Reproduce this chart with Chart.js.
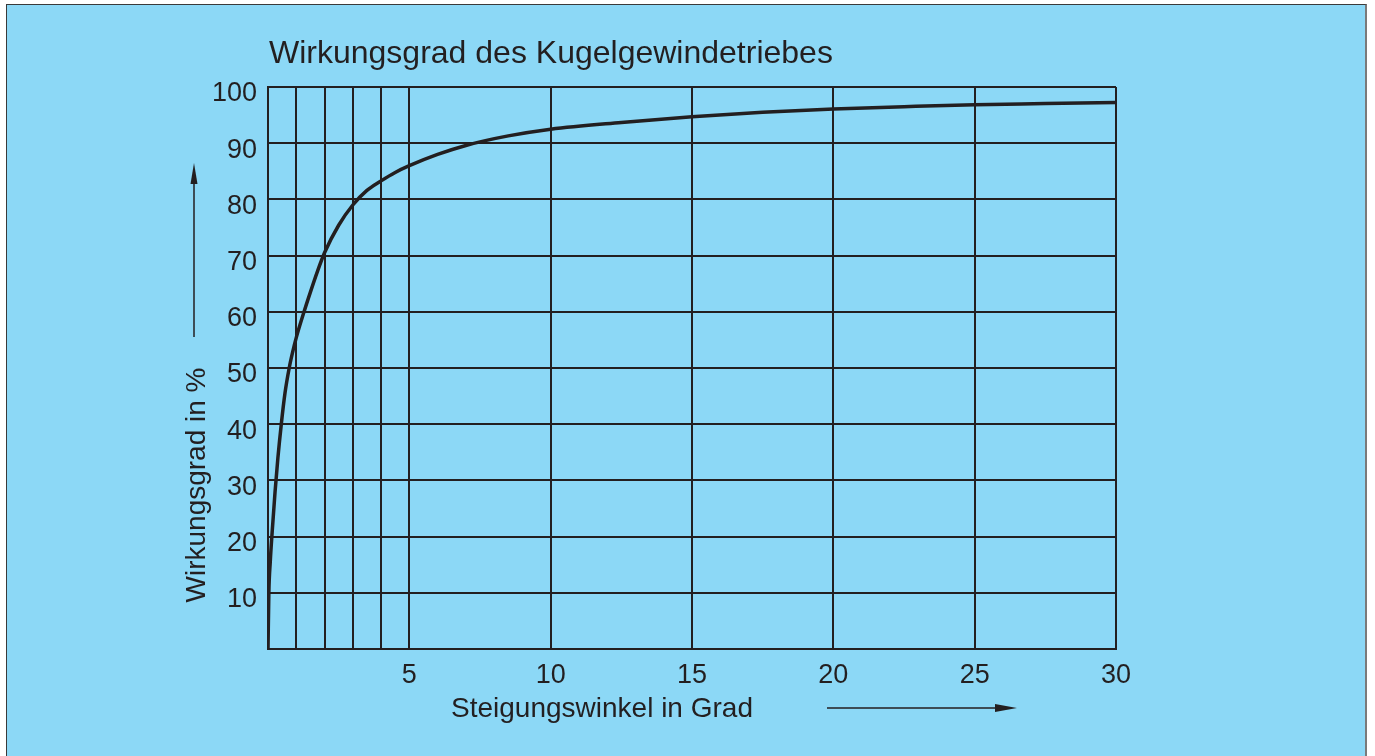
<!DOCTYPE html>
<html>
<head>
<meta charset="utf-8">
<title>Wirkungsgrad des Kugelgewindetriebes</title>
<script src="https://cdn.jsdelivr.net/npm/chart.js@4.4.1/dist/chart.umd.min.js"></script>
<style>
    body { margin: 0; background: #ffffff; overflow: hidden; }
    #frame {
        position: absolute; left: 6px; top: 4px; width: 1358px; height: 760px;
        background: #8cd8f6;
        border-left: 1px solid #3a3a3a;
        border-top: 1px solid #3a3a3a;
        border-right: 2px solid #7a7a7a;
    }
    #chart { position: absolute; left: 0; top: 0; }
</style>
</head>
<body>
<div id="frame"></div>
<canvas id="chart" width="1375" height="756"></canvas>
<script>
// Data
const angles = [0, 0.03, 0.08, 0.15, 0.25, 0.35, 0.47, 0.6, 0.75, 0.88, 1.0, 1.25, 1.5, 1.75, 2.0, 2.5, 3.0, 3.5, 4.0, 4.5, 5.0, 6.0, 7.0, 8.5, 10, 12.5, 15, 17.5, 20, 22.5, 25, 27.5, 30];
const efficiency = [0, 10, 15.5, 21, 28, 34, 40, 45.5, 50, 53, 55.4, 59.6, 63.5, 67.2, 70.5, 75.4, 79.0, 81.6, 83.3, 84.8, 86, 88.0, 89.6, 91.3, 92.5, 93.7, 94.7, 95.5, 96.1, 96.5, 96.85, 97.05, 97.25];
const xGridValues = [0, 1, 2, 3, 4, 5, 10, 15, 20, 25, 30];
const xTickLabels = ['', '', '', '', '', '5', '10', '15', '20', '25', '30'];
const yTickLabels = ['', '10', '20', '30', '40', '50', '60', '70', '80', '90', '100'];

const titleText = 'Wirkungsgrad des Kugelgewindetriebes';
const xTitle = 'Steigungswinkel in Grad';
const yTitle = 'Wirkungsgrad in %';

const ink = '#231f20';
const fontFamily = '"Liberation Sans", Arial, Helvetica, sans-serif';

// Title, axis titles and the two arrows
const annotations = {
    id: 'annotations',
    afterDraw(chart) {
        const ctx = chart.ctx;
        ctx.save();
        ctx.fillStyle = ink;
        ctx.strokeStyle = ink;

        ctx.font = '32px ' + fontFamily;
        ctx.textAlign = 'left';
        ctx.textBaseline = 'alphabetic';
        ctx.fillText(titleText, 269, 63);

        ctx.font = '28px ' + fontFamily;
        ctx.textAlign = 'center';
        ctx.fillText(xTitle, 602, 717);

        ctx.save();
        ctx.translate(205, 485);
        ctx.rotate(-Math.PI / 2);
        ctx.fillText(yTitle, 0, 0);
        ctx.restore();

        // vertical arrow
        ctx.lineWidth = 1.5;
        ctx.beginPath();
        ctx.moveTo(194, 337);
        ctx.lineTo(194, 178);
        ctx.stroke();
        ctx.beginPath();
        ctx.moveTo(194, 163);
        ctx.lineTo(197.5, 184);
        ctx.lineTo(190.5, 184);
        ctx.closePath();
        ctx.fill();

        // horizontal arrow
        ctx.beginPath();
        ctx.moveTo(827, 708);
        ctx.lineTo(1000, 708);
        ctx.stroke();
        ctx.beginPath();
        ctx.moveTo(1017, 708);
        ctx.lineTo(995, 704);
        ctx.lineTo(995, 712);
        ctx.closePath();
        ctx.fill();

        ctx.restore();
    }
};

const ctx = document.getElementById('chart').getContext('2d');
new Chart(ctx, {
    type: 'scatter',
    data: {
        datasets: [{
            label: 'Wirkungsgrad',
            data: angles.map((a, i) => ({ x: a, y: efficiency[i] })),
            showLine: true,
            borderColor: ink,
            borderWidth: 3.5,
            pointRadius: 0,
            cubicInterpolationMode: 'monotone',
            fill: false
        }]
    },
    options: {
        responsive: false,
        animation: false,
        events: [],
        layout: {
            padding: { left: 0, top: 87, right: 259, bottom: 47 }
        },
        plugins: {
            legend: { display: false },
            tooltip: { enabled: false },
            title: { display: false }
        },
        scales: {
            x: {
                type: 'linear',
                min: 0,
                max: 30,
                afterBuildTicks: (scale) => {
                    scale.ticks = xGridValues.map(v => ({ value: v }));
                },
                afterFit: (scale) => { scale.height = 60; },
                grid: { color: ink, lineWidth: 2, drawTicks: false },
                border: { color: ink, width: 2 },
                ticks: {
                    color: ink,
                    font: { family: fontFamily, size: 27 },
                    padding: 10,
                    maxRotation: 0,
                    autoSkip: false,
                    callback: (value, index) => xTickLabels[index]
                }
            },
            y: {
                min: 0,
                max: 100,
                afterFit: (scale) => { scale.width = 268; },
                grid: { color: ink, lineWidth: 2, drawTicks: false },
                border: { color: ink, width: 2 },
                ticks: {
                    stepSize: 10,
                    color: ink,
                    font: { family: fontFamily, size: 27 },
                    padding: 11,
                    labelOffset: 7,
                    callback: (value, index) => yTickLabels[index]
                }
            }
        }
    },
    plugins: [annotations]
});
</script>
</body>
</html>
